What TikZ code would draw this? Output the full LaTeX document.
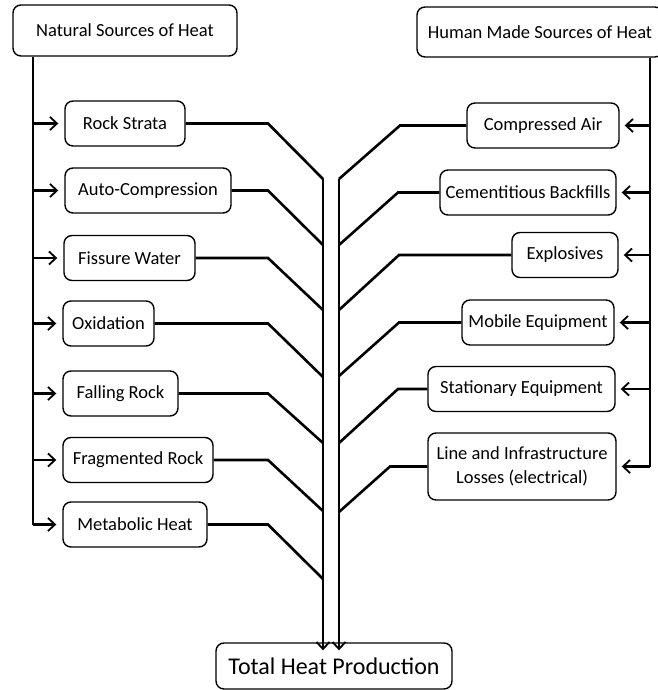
\documentclass[tikz,border=0pt]{standalone}
\usepackage{fontspec}
\setmainfont{Carlito}
\usetikzlibrary{arrows.meta}
\begin{document}
\begin{tikzpicture}[x=1pt,y=-1pt,
   box/.style={draw,rounded corners=8pt,line width=1.4pt,inner sep=0pt,
     minimum height=45pt,font=\fontsize{18.5}{24}\selectfont},
   ray/.style={line width=2.6pt},
   feed/.style={line width=2.6pt,-{Straight Barb[length=7pt,width=13pt,line width=1.8pt]}}]
   \useasboundingbox (0,0) rectangle (657,690);
   % heads of the two groups
   \node[box,minimum width=224pt,minimum height=51pt] (nat) at (125,30.5) {Natural Sources of Heat};
   \node[box,minimum width=246pt,minimum height=50pt] (hum) at (540,32) {Human Made Sources of Heat};
   % natural sources
   \node[box,minimum width=120pt] (rock) at (125,123.5) {Rock Strata};
   \node[box,minimum width=166pt] (auto) at (148,190.5) {Auto-Compression};
   \node[box,minimum width=131pt] (fiss) at (129.5,258) {Fissure Water};
   \node[box,minimum width=91pt] (oxid) at (108.5,323.5) {Oxidation};
   \node[box,minimum width=115pt] (fall) at (120.5,393.5) {Falling Rock};
   \node[box,minimum width=150pt] (frag) at (138,460) {Fragmented Rock};
   \node[box,minimum width=144pt] (meta) at (135,524.5) {Metabolic Heat};
   % human made sources
   \node[box,minimum width=152pt] (comp) at (543,125.5) {Compressed Air};
   \node[box,minimum width=176pt] (ceme) at (528,192.5) {Cementitious Backfills};
   \node[box,minimum width=106pt] (expl) at (565,255) {Explosives};
   \node[box,minimum width=152pt] (mobi) at (538,322.5) {Mobile Equipment};
   \node[box,minimum width=187pt] (stat) at (521.5,389) {Stationary Equipment};
   \node[box,minimum width=188pt,minimum height=67pt,align=center] (line) at (522,466.5)
     {Line and Infrastructure\\Losses (electrical)};
   % result
   \node[box,minimum width=236pt,minimum height=46pt,font=\fontsize{24}{28}\selectfont] (tot) at (334,666) {Total Heat Production};
   % feed lines from the heads
   \coordinate (nbus) at (33,0);
   \coordinate (hbus) at (650,0);
   \draw[ray] (nat.south -| nbus) -- (meta.west -| nbus);
   \draw[ray] (hum.south -| hbus) -- (line.west -| hbus);
   \foreach \n in {rock,auto,fiss,oxid,fall,frag,meta}
     \draw[feed] (\n.west -| nbus) -- ([xshift=-6pt]\n.west);
   \foreach \n in {comp,ceme,expl,mobi,stat,line}
     \draw[feed] (\n.east -| hbus) -- ([xshift=5pt]\n.east);
   % the two trunks
   \coordinate (ltop) at (323,179);
   \coordinate (rtop) at (339,179);
   \draw[feed] (ltop) -- ([yshift=-8pt]ltop |- tot.north);
   \draw[feed] (rtop) -- ([yshift=-8pt]rtop |- tot.north);
   % branches into the trunks
   \foreach \n/\y in {rock/179,auto/245,fiss/310,oxid/377,fall/443,frag/511,meta/579}
     \draw[ray] (\n.east) -- (268,0 |- \n.east) -- (323,\y);
   \foreach \n/\x/\y in {comp/400/179,ceme/398/245,expl/399/310,mobi/399/376,stat/398/443,line/390/512}
     \draw[ray] (\n.west) -- (\x,0 |- \n.west) -- (339,\y);
\end{tikzpicture}
\end{document}
